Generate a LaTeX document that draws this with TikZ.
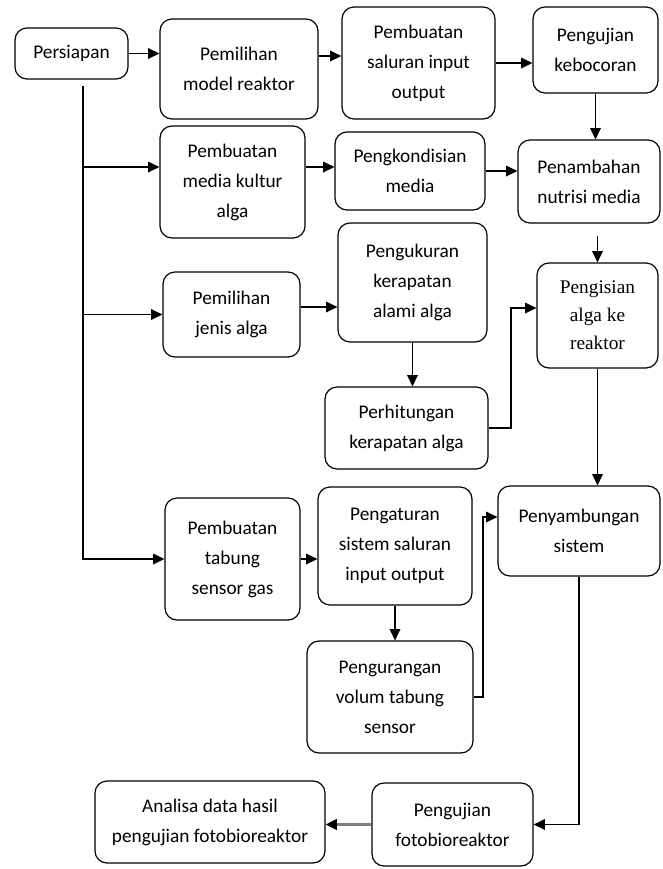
\documentclass[tikz,border=0pt]{standalone}
\usepackage{fontspec}
\setmainfont{Carlito}
\newfontfamily\serifbox{Liberation Serif}
\usetikzlibrary{arrows.meta, calc, positioning}

\begin{document}
\begin{tikzpicture}[x=0.75pt, y=-0.75pt, >={Triangle[length=8.5pt, width=8pt]},
  box/.style={draw, rounded corners=9pt, line width=0.9pt, align=center, inner sep=2pt,
    font=\fontsize{14.5}{22.5}\selectfont},
  sz/.style 2 args={minimum width=#1*0.75pt, minimum height=#2*0.75pt},
  link/.style={line width=0.9pt}]
  \useasboundingbox (0,0) rectangle (663,869);

  % Row 1: reactor
  \node[box, sz={113}{51}] (persiapan) at (71.5,53.5) {Persiapan};
  \node[box, sz={158}{100}] (model) at (239,69) {Pemilihan\\model reaktor};
  \node[box, sz={153}{112}] (saluran) at (418.5,63) {Pembuatan\\saluran input\\output};
  \node[box, sz={125}{86}] (bocor) at (595.5,50) {Pengujian\\kebocoran};

  % Row 2: media
  \node[box, sz={145}{112}] (media) at (232.5,182) {Pembuatan\\media kultur\\alga};
  \node[box, sz={150}{78}] (kondisi) at (410,171) {Pengkondisian\\media};
  \node[box, sz={142}{83}] (nutrisi) at (589,181.5) {Penambahan\\nutrisi media};

  % Row 3: algae
  \node[box, sz={137}{85}] (jenis) at (231.5,314.5) {Pemilihan\\jenis alga};
  \node[box, sz={149}{119}] (ukur) at (412.5,282.5) {Pengukuran\\kerapatan\\alami alga};
  \node[box, sz={121}{105}, font=\serifbox\fontsize{14.5}{21}\selectfont] (isi) at (597.5,315.5)
    {Pengisian\\alga ke\\reaktor};
  \node[box, sz={163}{82}] (hitung) at (406.5,428) {Perhitungan\\kerapatan alga};

  % Row 4: gas sensor
  \node[box, sz={135}{122}] (tabung) at (232.5,559) {Pembuatan\\tabung\\sensor gas};
  \node[box, sz={154}{118}] (atur) at (395,546) {Pengaturan\\sistem saluran\\input output};
  \node[box, sz={162}{90}] (sambung) at (579,531) {Penyambungan\\sistem};
  \node[box, sz={166}{112}] (kurang) at (390,697) {Pengurangan\\volum tabung\\sensor};

  % Row 5: testing
  \node[box, sz={230}{82}] (analisa) at (210,822) {Analisa data hasil\\pengujian fotobioreaktor};
  \node[box, sz={161}{83}] (uji) at (452.5,824.5) {Pengujian\\fotobioreaktor};

  % Helper points
  \coordinate (trunk) at (83,86);
  \coordinate (row1) at (0,56);
  \coordinate (row2) at (0,167);
  \coordinate (row3) at (0,307);
  \coordinate (bendA) at (511,308);
  \coordinate (bendB) at (483,517);

  % Connectors
  \draw[link, ->] (persiapan.east) -- (persiapan.east -| model.west);
  \draw[link, ->] (model.east |- row1) -- (saluran.west |- row1);
  \draw[link, ->] (saluran.east) -- (saluran.east -| bocor.west);
  \draw[link, ->] (bocor.south) -- (bocor.south |- nutrisi.north);
  \draw[link, ->] (trunk) |- (tabung.west);
  \draw[link, ->] (trunk |- row2) -- (media.west |- row2);
  \draw[link, ->] (trunk |- jenis.west) -- (jenis.west);
  \draw[link, ->] (media.east |- row2) -- (kondisi.west |- row2);
  \draw[link, ->] (kondisi.east) -- (kondisi.east -| nutrisi.west);
  \draw[link, ->] (jenis.east |- row3) -- (ukur.west |- row3);
  \draw[link, ->, shorten <=9pt] (isi.north |- nutrisi.south) -- (isi.north);
  \draw[link, ->] (ukur.south) -- (ukur.south |- hitung.north);
  \draw[link, ->] (hitung.east) -| (bendA) -- (bendA -| isi.west);
  \draw[link, ->] (isi.south) -- (isi.south |- sambung.north);
  \draw[link, ->] (tabung.east) -- (tabung.east -| atur.west);
  \draw[link, ->] (atur.south) -- (atur.south |- kurang.north);
  \draw[link, ->] (kurang.east) -| (bendB) -- (bendB -| sambung.west);
  \draw[link, ->] (sambung.south) |- (uji.east);
  \draw[gray, line width=1.8pt, -{Triangle[length=8.5pt, width=8pt, black]}]
    (uji.west) -- (uji.west -| analisa.east);
\end{tikzpicture}
\end{document}
